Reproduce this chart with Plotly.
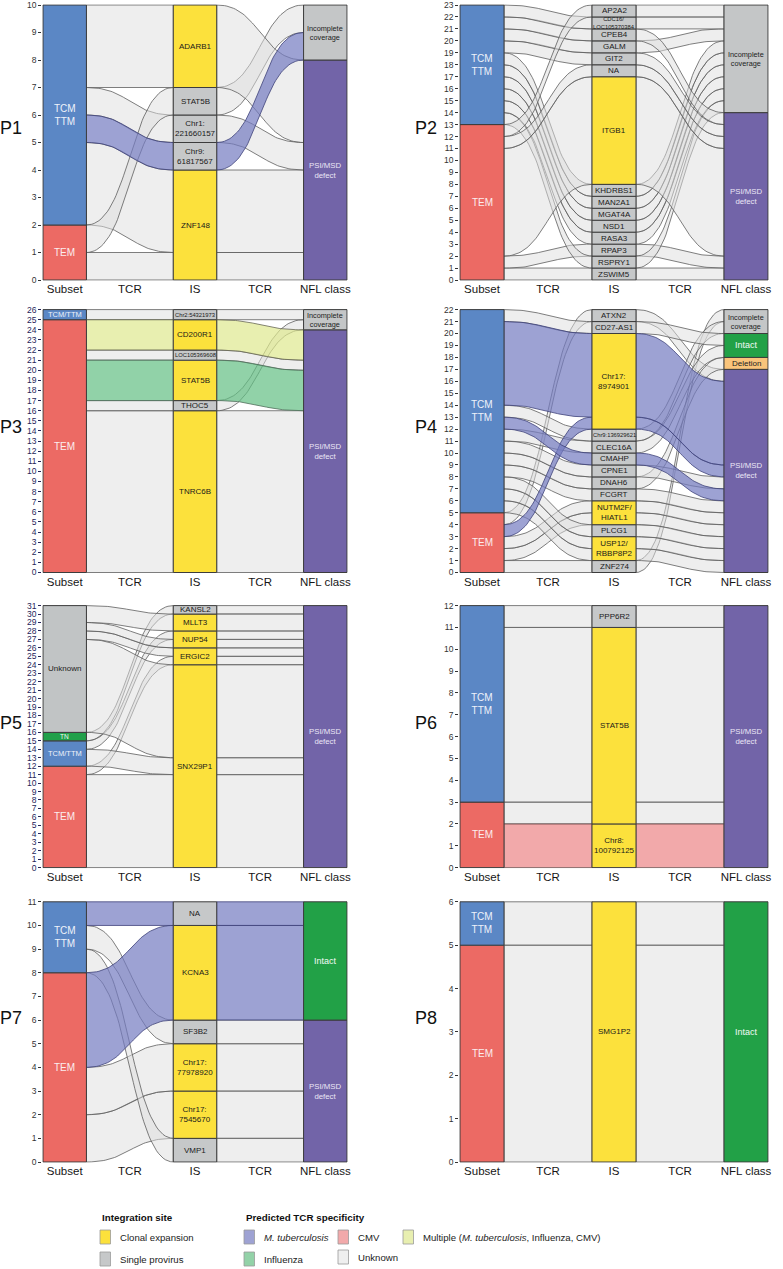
import numpy as np
import plotly.graph_objects as go

W, H = 783, 1269

# ---------------- data ----------------
# Nodes are listed bottom -> top. Flows: start value at Subset, IS, NFL class; size; TCR specificity
# TCR codes: U unknown, M M. tuberculosis, I Influenza, C CMV, X multiple
P1_SUBSET = ["TEM", "TCM"]
P1_SUBSET_LABEL = ["TEM", "TCM<br>TTM"]
P1_SUBSET_N = [2, 8]
P1_IS = ["ZNF148", "Chr9:<br>61817567", "Chr1:<br>221660157", "STAT5B", "ADARB1"]
P1_IS_N = [4, 1, 1, 1, 3]
P1_IS_CLONAL = [1, 0, 0, 0, 1]
P1_NFL = ["PSI", "Incomplete"]
P1_NFL_N = [8, 2]
P1_FLOW_SUBSET = [0, 2, 5, 6, 1, 7]
P1_FLOW_IS = [0, 1, 4, 5, 6, 7]
P1_FLOW_NFL = [0, 1, 8, 4, 9, 5]
P1_FLOW_N = [1, 3, 1, 1, 1, 3]
P1_FLOW_TCR = ["U", "U", "M", "U", "U", "U"]

P2_SUBSET = ["TEM", "TCM"]
P2_SUBSET_LABEL = ["TEM", "TCM<br>TTM"]
P2_SUBSET_N = [13, 10]
P2_IS = ["ZSWIM5", "RSPRY1", "RPAP3", "RASA3", "NSD1", "MGAT4A", "MAN2A1", "KHDRBS1",
         "ITGB1", "NA", "GIT2", "GALM", "CPEB4", "CDC16/<br>LOC105370384", "AP2A2"]
P2_IS_N = [1, 1, 1, 1, 1, 1, 1, 1, 9, 1, 1, 1, 1, 1, 1]
P2_IS_CLONAL = [0, 0, 0, 0, 0, 0, 0, 0, 1, 0, 0, 0, 0, 0, 0]
P2_NFL = ["PSI", "Incomplete"]
P2_NFL_N = [14, 9]
P2_FLOW_SUBSET = [0, 1, 13, 14, 15, 16, 17, 18, 2, 11, 19, 20, 21, 22, 12]
P2_FLOW_IS = [0, 2, 1, 3, 4, 5, 6, 7, 8, 17, 18, 19, 20, 21, 22]
P2_FLOW_NFL = [0, 1, 14, 15, 16, 17, 18, 19, 2, 11, 12, 20, 13, 21, 22]
P2_FLOW_N = [1, 1, 1, 1, 1, 1, 1, 1, 9, 1, 1, 1, 1, 1, 1]
P2_FLOW_TCR = ["U"] * 15

P3_SUBSET = ["TEM", "TCM"]
P3_SUBSET_LABEL = ["TEM", "TCM/TTM"]
P3_SUBSET_N = [25, 1]
P3_IS = ["TNRC6B", "THOC5", "STAT5B", "LOC105369608", "CD200R1", "Chr2:54321973"]
P3_IS_N = [16, 1, 4, 1, 3, 1]
P3_IS_CLONAL = [1, 0, 1, 0, 1, 0]
P3_NFL = ["PSI", "Incomplete"]
P3_NFL_N = [24, 2]
P3_FLOW_SUBSET = [0, 16, 17, 21, 22, 25]
P3_FLOW_IS = [0, 16, 17, 21, 22, 25]
P3_FLOW_NFL = [0, 24, 16, 20, 21, 25]
P3_FLOW_N = [16, 1, 4, 1, 3, 1]
P3_FLOW_TCR = ["U", "U", "I", "U", "X", "U"]

P4_SUBSET = ["TEM", "TCM"]
P4_SUBSET_LABEL = ["TEM", "TCM<br>TTM"]
P4_SUBSET_N = [5, 17]
P4_IS = ["ZNF274", "USP12/<br>RBBP8P2", "PLCG1", "NUTM2F/<br>HIATL1", "FCGRT", "DNAH6", "CPNE1",
         "CMAHP", "CLEC16A", "Chr9:136929621", "Chr17:<br>8974901", "CD27-AS1", "ATXN2"]
P4_IS_N = [1, 2, 1, 2, 1, 1, 1, 1, 1, 1, 8, 1, 1]
P4_IS_CLONAL = [0, 1, 0, 1, 0, 0, 0, 0, 0, 0, 1, 0, 0]
P4_NFL = ["PSI", "Deletion", "Intact", "Incomplete"]
P4_NFL_N = [17, 1, 2, 2]
P4_FLOW_SUBSET = [0, 1, 2, 3, 4, 5, 6, 7, 8, 9, 10, 11, 12, 13, 14, 21]
P4_FLOW_IS = [0, 4, 5, 12, 21, 1, 2, 3, 6, 7, 8, 10, 9, 11, 13, 20]
P4_FLOW_NFL = [21, 3, 4, 8, 16, 0, 1, 2, 5, 17, 7, 18, 6, 20, 9, 19]
P4_FLOW_N = [1, 1, 1, 1, 1, 1, 1, 1, 1, 1, 1, 1, 1, 1, 7, 1]
P4_FLOW_TCR = ["U", "U", "U", "M", "U", "U", "U", "U", "U", "U", "U", "U", "M", "U", "M", "U"]

P5_SUBSET = ["TEM", "TCM", "TN", "Unknown"]
P5_SUBSET_LABEL = ["TEM", "TCM/TTM", "TN", "Unknown"]
P5_SUBSET_N = [12, 3, 1, 15]
P5_IS = ["SNX29P1", "ERGIC2", "NUP54", "MLLT3", "KANSL2"]
P5_IS_N = [24, 2, 2, 2, 1]
P5_IS_CLONAL = [1, 1, 1, 1, 0]
P5_NFL = ["PSI"]
P5_NFL_N = [31]
P5_FLOW_SUBSET = [0, 11, 12, 14, 15, 16, 27, 28, 29]
P5_FLOW_IS = [0, 24, 11, 27, 30, 13, 25, 26, 28]
P5_FLOW_NFL = [0, 24, 11, 27, 30, 13, 25, 26, 28]
P5_FLOW_N = [11, 1, 2, 1, 1, 11, 1, 1, 2]
P5_FLOW_TCR = ["U"] * 9

P6_SUBSET = ["TEM", "TCM"]
P6_SUBSET_LABEL = ["TEM", "TCM<br>TTM"]
P6_SUBSET_N = [3, 9]
P6_IS = ["Chr8:<br>100792125", "STAT5B", "PPP6R2"]
P6_IS_N = [2, 9, 1]
P6_IS_CLONAL = [1, 1, 0]
P6_NFL = ["PSI"]
P6_NFL_N = [12]
P6_FLOW_SUBSET = [0, 2, 3, 11]
P6_FLOW_IS = [0, 2, 3, 11]
P6_FLOW_NFL = [0, 2, 3, 11]
P6_FLOW_N = [2, 1, 8, 1]
P6_FLOW_TCR = ["C", "U", "U", "U"]

P7_SUBSET = ["TEM", "TCM"]
P7_SUBSET_LABEL = ["TEM", "TCM<br>TTM"]
P7_SUBSET_N = [8, 3]
P7_IS = ["VMP1", "Chr17:<br>7545670", "Chr17:<br>77978920", "SF3B2", "KCNA3", "NA"]
P7_IS_N = [1, 2, 2, 1, 4, 1]
P7_IS_CLONAL = [0, 1, 1, 0, 1, 0]
P7_NFL = ["PSI", "Intact"]
P7_NFL_N = [6, 5]
P7_FLOW_SUBSET = [0, 2, 4, 8, 9, 10]
P7_FLOW_IS = [1, 3, 6, 0, 5, 10]
P7_FLOW_NFL = [1, 3, 6, 0, 5, 10]
P7_FLOW_N = [2, 2, 4, 1, 1, 1]
P7_FLOW_TCR = ["U", "U", "M", "U", "U", "M"]

P8_SUBSET = ["TEM", "TCM"]
P8_SUBSET_LABEL = ["TEM", "TCM<br>TTM"]
P8_SUBSET_N = [5, 1]
P8_IS = ["SMG1P2"]
P8_IS_N = [6]
P8_IS_CLONAL = [1]
P8_NFL = ["Intact"]
P8_NFL_N = [6]
P8_FLOW_SUBSET = [0, 5]
P8_FLOW_IS = [0, 5]
P8_FLOW_NFL = [0, 5]
P8_FLOW_N = [5, 1]
P8_FLOW_TCR = ["U", "U"]

PANEL_NAMES = ["P1", "P2", "P3", "P4", "P5", "P6", "P7", "P8"]
CATEGORY_LABELS = ["Subset", "TCR", "IS", "TCR", "NFL class"]

# ---------------- styling ----------------
FONT = "Arial, 'Liberation Sans', Helvetica, sans-serif"
SUBSET_COLOR = {"TEM": "#ec6a64", "TCM": "#5b87c5", "TN": "#21a04a", "Unknown": "#c1c4c5"}
SUBSET_TEXT = {"TEM": "#fbeeee", "TCM": "#eef2fa", "TN": "#eef8f0", "Unknown": "#222222"}
NFL_COLOR = {"PSI": "#7264a8", "Incomplete": "#c4c6c7", "Intact": "#22a147", "Deletion": "#f9c47b"}
NFL_TEXT = {"PSI": "#ebe7f6", "Incomplete": "#222222", "Intact": "#f2faf4", "Deletion": "#222222"}
NFL_LABEL = {"PSI": "PSI/MSD<br>defect", "Incomplete": "Incomplete<br>coverage", "Intact": "Intact",
             "Deletion": "Deletion"}
NFL_SIZE = {"PSI": 7.8, "Incomplete": 7.3, "Intact": 9, "Deletion": 8}
IS_CLONAL_COLOR = "#fce13c"
IS_SINGLE_COLOR = "#c6c8c9"
TCR_FILL = {"U": "rgba(222,222,222,0.5)", "M": "rgba(116,122,192,0.7)",
            "I": "rgba(99,191,131,0.7)", "C": "rgba(236,132,134,0.7)", "X": "rgba(222,232,142,0.7)"}
TCR_LINE = {"U": "#5e5e5e", "M": "#3f437a", "I": "#4f6f5a", "C": "#6f4f4f", "X": "#666655"}
BORDER = "#3c3c3c"

COL_X = [(43.0, 347.0), (460.0, 768.0)]
ROW_Y = [(5.0, 280.0), (309.6, 572.5), (605.6, 867.6), (901.8, 1162.0)]

g = globals()
panels = []
for name in PANEL_NAMES:
    panels.append(dict(
        name=name,
        subset=g[name + "_SUBSET"], subset_label=g[name + "_SUBSET_LABEL"], subset_n=g[name + "_SUBSET_N"],
        is_=g[name + "_IS"], is_n=g[name + "_IS_N"], is_clonal=g[name + "_IS_CLONAL"],
        nfl=g[name + "_NFL"], nfl_n=g[name + "_NFL_N"],
        fs=g[name + "_FLOW_SUBSET"], fi=g[name + "_FLOW_IS"], fn=g[name + "_FLOW_NFL"],
        fsize=g[name + "_FLOW_N"], ftcr=g[name + "_FLOW_TCR"],
    ))


def sig(x0, x1, y0, y1, n=48):
    t = np.linspace(0, 1, n)
    xm = (x0 + x1) / 2
    x = (1 - t) ** 3 * x0 + 3 * (1 - t) ** 2 * t * xm + 3 * (1 - t) * t ** 2 * xm + t ** 3 * x1
    y = (1 - t) ** 3 * y0 + 3 * (1 - t) ** 2 * t * y0 + 3 * (1 - t) * t ** 2 * y1 + t ** 3 * y1
    return x, y


def band(x0, x1, ya, yb, s):
    xt, yt = sig(x0, x1, ya + s, yb + s)
    xb, yb_ = sig(x1, x0, yb, ya)
    return np.concatenate([xt, xb, xt[:1]]), np.concatenate([yt, yb_, yt[:1]])


fig = go.Figure()
shapes = []
annotations = []
layout = {}

for k, p in enumerate(panels, start=1):
    row, col = (k - 1) // 2, (k - 1) % 2
    xl, xr = COL_X[col]
    yt, yb = ROW_Y[row]
    total = sum(p["subset_n"])
    ppx = (xr - xl) / 7.0
    ppy = (yb - yt) / total
    padx, pady = 0.8 / ppx, 0.8 / ppy
    xname = "x" if k == 1 else f"x{k}"
    yname = "y" if k == 1 else f"y{k}"
    xkey = "xaxis" if k == 1 else f"xaxis{k}"
    ykey = "yaxis" if k == 1 else f"yaxis{k}"
    rkey = f"yaxis{k + 8}"
    tickcol = "#26265a" if p["name"] in ("P3", "P5") else "#333333"

    layout[xkey] = dict(domain=[(xl - 0.8) / W, (xr + 0.8) / W], anchor=yname, range=[-padx, 7 + padx],
                        tickmode="array", tickvals=[0.5, 2, 3.5, 5, 6.5], ticktext=CATEGORY_LABELS,
                        ticks="", showgrid=False, zeroline=False, showline=False, automargin=False,
                        ticklabeloverflow="allow",
                        tickfont=dict(size=11.5, color="#161616", family=FONT), fixedrange=True)
    ydom = [1 - (yb + 0.8) / H, 1 - (yt - 0.8) / H]
    yticks = list(range(0, total + 1))
    common = dict(range=[-pady, total + pady], tickmode="array", tickvals=yticks, ticks="outside",
                  ticklen=3, tickwidth=1, tickcolor=tickcol, showgrid=False, zeroline=False,
                  showline=False, automargin=False, ticklabeloverflow="allow",
                  tickfont=dict(size=8.5, color=tickcol, family=FONT), fixedrange=True)
    layout[ykey] = dict(domain=ydom, anchor=xname, side="left", **common)
    layout[rkey] = dict(overlaying=yname, anchor=xname, side="right", **common)

    # flows (unknown first so coloured ones sit on top)
    order = sorted(range(len(p["fs"])), key=lambda i: 0 if p["ftcr"][i] == "U" else 1)
    for i in order:
        s0, i0, n0, sz, tcr = p["fs"][i], p["fi"][i], p["fn"][i], p["fsize"][i], p["ftcr"][i]
        for (xa, xb, ya, yb2) in ((1, 3, s0, i0), (4, 6, i0, n0)):
            bx, by = band(xa, xb, ya, yb2, sz)
            fig.add_trace(go.Scatter(x=bx, y=by, mode="lines", fill="toself",
                                     fillcolor=TCR_FILL[tcr], line=dict(color=TCR_LINE[tcr], width=0.8),
                                     hoverinfo="skip", showlegend=False, xaxis=xname, yaxis=yname))

    def node(x0, lo, hi, fill, text, tcolor, tsize):
        shapes.append(dict(type="rect", xref=xname, yref=yname, x0=x0, x1=x0 + 1, y0=lo, y1=hi,
                           fillcolor=fill, line=dict(color=BORDER, width=1), layer="above"))
        annotations.append(dict(xref=xname, yref=yname, x=x0 + 0.5, y=(lo + hi) / 2, text=text,
                                showarrow=False, font=dict(size=tsize, color=tcolor, family=FONT)))

    # subset nodes
    lo = 0
    for typ, lab, n in zip(p["subset"], p["subset_label"], p["subset_n"]):
        if lab == "TN":
            ts = 6.5
        elif "/" in lab:
            ts = 7.5
        elif lab == "Unknown":
            ts = 8
        else:
            ts = 10
        node(0, lo, lo + n, SUBSET_COLOR[typ], lab, SUBSET_TEXT[typ], ts)
        lo += n
    # IS nodes
    lo = 0
    for lab, n, c in zip(p["is_"], p["is_n"], p["is_clonal"]):
        longest = max(len(s) for s in lab.split("<br>"))
        ts = 5.8 if longest >= 11 else 8
        node(3, lo, lo + n, IS_CLONAL_COLOR if c else IS_SINGLE_COLOR, lab, "#1a1a1a", ts)
        lo += n
    # NFL nodes
    lo = 0
    for typ, n in zip(p["nfl"], p["nfl_n"]):
        node(6, lo, lo + n, NFL_COLOR[typ], NFL_LABEL[typ], NFL_TEXT[typ], NFL_SIZE[typ])
        lo += n

    # panel label
    lx = max(xl - 34, 11)
    annotations.append(dict(xref="paper", yref="paper", x=lx / W, y=1 - ((yt + yb) / 2 - 14) / H,
                            text=p["name"], showarrow=False, xanchor="center", yanchor="middle",
                            font=dict(size=18, color="#111111", family=FONT)))

# ---------------- legend ----------------
def px(x):
    return x / W


def py(y):
    return 1 - y / H


LEG_TITLES = [("Integration site", 100), ("Predicted TCR specificity", 244)]
LEG_ITEMS = [
    (100, 1230, IS_CLONAL_COLOR, "Clonal expansion"),
    (100, 1252, IS_SINGLE_COLOR, "Single provirus"),
    (244, 1230, "#9ea2d3", "<i>M. tuberculosis</i>"),
    (244, 1252, "#93d2a8", "Influenza"),
    (338, 1230, "#f2a9aa", "CMV"),
    (338, 1250, "#efefef", "Unknown"),
    (403, 1230, "#e8efb0", "Multiple (<i>M. tuberculosis</i>, Influenza, CMV)"),
]
for t, x in LEG_TITLES:
    annotations.append(dict(xref="paper", yref="paper", x=px(x), y=py(1217), text="<b>" + t + "</b>",
                            showarrow=False, xanchor="left", yanchor="middle",
                            font=dict(size=9.8, color="#111111", family=FONT)))
for x, y, c, t in LEG_ITEMS:
    shapes.append(dict(type="rect", xref="paper", yref="paper", x0=px(x), x1=px(x + 10.5),
                       y0=py(y + 14), y1=py(y), fillcolor=c, line=dict(color="#9a9a9a", width=0.8)))
    annotations.append(dict(xref="paper", yref="paper", x=px(x + 17.5), y=py(y + 7), text=t,
                            showarrow=False, xanchor="left", yanchor="middle",
                            font=dict(size=9.6, color="#222222", family=FONT)))

fig.update_layout(width=W, height=H, autosize=False, margin=dict(l=0, r=0, t=0, b=0, pad=0, autoexpand=False),
                  paper_bgcolor="white", plot_bgcolor="rgba(0,0,0,0)", showlegend=False,
                  font=dict(family=FONT), shapes=shapes, annotations=annotations, **layout)

fig.write_html("out.html", config={"displayModeBar": False, "staticPlot": True},
               post_script="document.body.style.margin='0px';document.body.style.padding='0px';"
                           "document.body.style.overflow='hidden';")
